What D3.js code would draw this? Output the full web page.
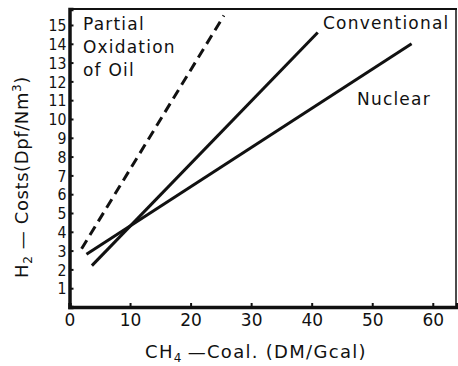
<!DOCTYPE html>
<html lang="en">
  <head>
    <meta charset="UTF-8" />
    <title>H2 costs</title>
    <style>
  body { margin: 0; background: #fff; }
  .chart text { font-family: "DejaVu Sans", sans-serif; fill: #111; }
</style>
  </head>
  <body>
<div class="chart"></div>
  <script src="https://cdn.jsdelivr.net/npm/d3@7"></script>
    <script>

    var width = 458;
    var height = 366;

    // tick values
    var xTicks = [0, 10, 20, 30, 40, 50, 60];
    var yTicks = [1, 2, 3, 4, 5, 6, 7, 8, 9, 10, 11, 12, 13, 14, 15];

    // line end points (CH4-coal, H2 cost)
    var oilX = [2, 25.5];
    var oilY = [3.1, 15.5];
    var convX = [3.7, 41];
    var convY = [2.2, 14.6];
    var nucX = [2.8, 56.5];
    var nucY = [2.8, 14.0];

    var x = d3.scaleLinear().domain([0, 64]).range([69.5, 457]);
    var y = d3.scaleLinear().domain([0, 15.85]).range([307, 9]);

    var svg = d3.select(".chart")
        .append("svg")
        .attr("width", width)
        .attr("height", height);

    // frame
    svg.append("line").attr("x1", x(0)).attr("x2", x(64)).attr("y1", y(15.85)).attr("y2", y(15.85))
       .attr("stroke", "#111").attr("stroke-width", 2);
    svg.append("line").attr("x1", x(64)-1).attr("x2", x(64)-1).attr("y1", y(15.85)).attr("y2", y(0))
       .attr("stroke", "#111").attr("stroke-width", 1.5);

    var yAxis = d3.axisLeft(y).tickValues(yTicks).tickSize(-4).tickPadding(3);
    var gy = svg.append("g").attr("transform", "translate(" + x(0) + ",0)").call(yAxis);
    gy.select(".domain").attr("stroke-width", 3.5).attr("stroke", "#111");
    gy.selectAll(".tick line").attr("stroke-width", 2).attr("stroke", "#111");
    gy.selectAll("text").style("font-size", "16px").attr("dy", "0.36em")
      .attr("transform", "scale(0.88,1)").attr("x", -3 / 0.88);

    var xAxis = d3.axisBottom(x).tickValues(xTicks).tickSize(-4).tickPadding(7);
    var gx = svg.append("g").attr("transform", "translate(0," + y(0) + ")").call(xAxis);
    gx.select(".domain").attr("stroke-width", 3.5).attr("stroke", "#111");
    gx.selectAll(".tick line").attr("stroke-width", 2).attr("stroke", "#111");
    gx.selectAll("text").style("font-size", "17px");

    var line = d3.line()
        .x(function(d){ return x(d[0]); })
        .y(function(d){ return y(d[1]); });

    function pts(xs, ys) {
      return xs.map(function(v, i){ return [v, ys[i]]; });
    }

    svg.append("path").attr("d", line(pts(oilX, oilY)))
       .attr("fill", "none").attr("stroke", "#111").attr("stroke-width", 3)
       .attr("stroke-dasharray", "10,6");
    svg.append("path").attr("d", line(pts(convX, convY)))
       .attr("fill", "none").attr("stroke", "#111").attr("stroke-width", 3);
    svg.append("path").attr("d", line(pts(nucX, nucY)))
       .attr("fill", "none").attr("stroke", "#111").attr("stroke-width", 3);

    // labels
    var lab = svg.append("g").style("font-size", "17px").style("letter-spacing", "1.2px");
    lab.append("text").attr("x", 83).attr("y", 30).text("Partial");
    lab.append("text").attr("x", 83).attr("y", 53).text("Oxidation");
    lab.append("text").attr("x", 83).attr("y", 76).text("of Oil");
    lab.append("text").attr("x", 323).attr("y", 29).text("Conventional");
    lab.append("text").attr("x", 357).attr("y", 105).text("Nuclear");

    // axis titles
    var xt = svg.append("text").attr("x", 256).attr("y", 358)
       .attr("text-anchor", "middle").style("font-size", "18px").style("letter-spacing", "1.3px");
    xt.append("tspan").text("CH");
    xt.append("tspan").text("4").style("font-size", "12px").attr("dy", 4);
    xt.append("tspan").text("\u2009\u2014Coal.  (DM/Gcal)").attr("dy", -4);

    var yt = svg.append("text").attr("transform", "translate(28,177) rotate(-90)")
       .attr("text-anchor", "middle").style("font-size", "18px").style("letter-spacing", "0.6px");
    yt.append("tspan").text("H");
    yt.append("tspan").text("2").style("font-size", "12px").attr("dy", 4);
    yt.append("tspan").text(" \u2014 Costs(Dpf/Nm").attr("dy", -4);
    yt.append("tspan").text("3").style("font-size", "12px").attr("dy", -7);
    yt.append("tspan").text(")").attr("dy", 7);

    </script>
  </body>
</html>
